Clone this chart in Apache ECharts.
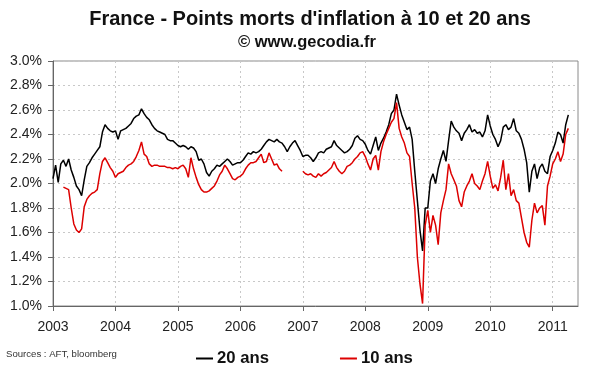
<!DOCTYPE html>
<html><head><meta charset="utf-8">
<script src="https://cdn.jsdelivr.net/npm/echarts@6/dist/echarts.min.js"></script>
<style>html,body{margin:0;padding:0;background:#fff}#c{width:600px;height:372px}</style>
</head><body><div id="c"></div>
<script>
// Semi-monthly readings starting January 2003
const START_YEAR = 2003;
const STEP = 1 / 24;
const X_MAX = 2011.405;
const yearTicks = [2003, 2004, 2005, 2006, 2007, 2008, 2009, 2010, 2011];
const Y_MIN = 1.0, Y_MAX = 3.0, Y_STEP = 0.2;

const titleText = "France - Points morts d'inflation à 10 et 20 ans";
const subtitleText = "© www.gecodia.fr";
const sourceText = "Sources : AFT, bloomberg";
const seriesNames = ["20 ans", "10 ans"];

const ans20 = [
  2.04,2.15,2.01,2.16,2.19,2.14,2.20,2.11,2.05,1.98,1.95,1.90,2.03,2.14,2.17,2.21,2.24,2.27,2.30,2.42,2.48,2.45,2.43,2.42,2.43,
  2.36,2.43,2.44,2.45,2.47,2.49,2.53,2.55,2.56,2.61,2.57,2.54,2.52,2.48,2.45,2.43,2.42,2.41,2.40,2.36,2.35,2.35,2.33,2.31,
  2.30,2.31,2.30,2.28,2.30,2.29,2.26,2.19,2.20,2.16,2.09,2.06,2.10,2.12,2.15,2.14,2.16,2.18,2.20,2.18,2.15,2.16,2.17,2.17,
  2.19,2.22,2.25,2.24,2.26,2.25,2.26,2.28,2.31,2.34,2.36,2.35,2.34,2.36,2.34,2.33,2.30,2.26,2.30,2.33,2.35,2.31,2.27,2.22,
  2.23,2.23,2.21,2.18,2.21,2.25,2.26,2.25,2.28,2.29,2.30,2.35,2.31,2.29,2.27,2.25,2.26,2.28,2.31,2.37,2.39,2.36,2.35,
  2.32,2.27,2.24,2.31,2.38,2.27,2.33,2.37,2.42,2.48,2.57,2.60,2.73,2.64,2.56,2.50,2.44,
  2.46,2.36,2.10,1.86,1.62,1.45,1.80,1.80,2.02,2.08,2.00,2.12,2.20,2.27,2.18,2.35,2.51,2.46,2.43,2.41,2.35,2.41,2.44,2.48,
  2.42,2.44,2.41,2.42,2.38,2.43,2.56,2.47,2.40,2.36,2.30,2.35,2.46,2.48,2.44,2.46,2.53,2.43,2.41,
  2.36,2.28,2.17,1.93,2.10,2.16,2.04,2.13,2.16,2.10,2.08,2.22,2.27,2.33,2.42,2.40,2.33,2.48,2.56
];

const ans10 = [
  null,null,null,null,
  1.97,1.96,1.95,1.80,1.67,1.62,1.60,1.63,1.81,1.87,1.90,1.92,1.93,1.95,2.08,2.18,2.21,2.17,2.13,2.10,2.05,
  2.08,2.09,2.10,2.13,2.15,2.16,2.18,2.22,2.27,2.34,2.24,2.22,2.16,2.14,2.15,2.15,2.14,2.14,2.14,2.13,2.13,2.12,2.13,2.12,
  2.14,2.15,2.12,2.05,2.21,2.12,2.05,1.99,1.95,1.93,1.93,1.94,1.96,1.98,2.02,2.07,2.10,2.15,2.12,2.08,2.04,2.03,2.05,2.06,
  2.08,2.12,2.15,2.17,2.17,2.18,2.21,2.24,2.17,2.18,2.25,2.20,2.15,2.16,2.12,2.10,
  null,null,null,null,null,null,null,
  2.10,2.08,2.07,2.08,2.06,2.05,2.08,2.06,2.08,2.09,2.11,2.13,2.18,2.13,2.10,2.08,2.10,2.14,2.15,2.17,2.20,2.22,2.25,2.26,
  2.22,2.16,2.11,2.20,2.23,2.11,2.26,2.34,2.40,2.45,2.50,2.53,2.66,2.45,2.38,2.33,2.25,
  2.22,2.00,1.80,1.40,1.18,1.02,1.66,1.78,1.60,1.74,1.66,1.50,1.76,1.86,1.95,2.16,2.08,2.03,1.98,1.86,1.81,1.93,1.98,2.02,
  2.08,2.00,1.98,1.95,2.02,2.08,2.18,2.06,1.96,1.99,1.94,2.05,2.19,1.95,2.08,1.90,1.95,1.86,1.84,1.72,1.60,1.52,1.48,1.70,
  1.84,1.76,1.80,1.82,1.66,1.98,2.06,2.16,2.20,2.26,2.18,2.24,2.40,2.45
];

function toPoints(vals) {
  return vals.map((v, i) => [START_YEAR + i * STEP, v == null ? '-' : v]);
}

const FONT = '"Liberation Sans", Arial, sans-serif';
const chart = echarts.init(document.getElementById('c'), null, {renderer: 'canvas'});
chart.setOption({
  animation: false,
  backgroundColor: '#fff',
  textStyle: {fontFamily: FONT},
  grid: {left: 53, right: 22, top: 61, bottom: 66, show: true, borderColor: '#8a8a8a', borderWidth: 1},
  graphic: [
    {type: 'text', x: 310, y: 19, style: {text: titleText, font: 'bold 20px ' + FONT, fill: '#111', align: 'center', verticalAlign: 'middle'}},
    {type: 'text', x: 307, y: 42, style: {text: subtitleText, font: 'bold 16.5px ' + FONT, fill: '#111', align: 'center', verticalAlign: 'middle'}},
    {type: 'text', x: 6, y: 354, style: {text: sourceText, font: '9.6px ' + FONT, fill: '#333', align: 'left', verticalAlign: 'middle'}}
  ],
  legend: {
    left: 191, top: 345, icon: 'rect', itemWidth: 17, itemHeight: 2, itemGap: 71,
    textStyle: {fontFamily: FONT, fontSize: 16.7, fontWeight: 'bold', color: '#111', padding: [0, 0, 0, -1]},
    data: seriesNames
  },
  xAxis: {
    type: 'value', min: START_YEAR, max: X_MAX,
    axisLine: {show: true, lineStyle: {color: '#666', width: 1}},
    axisTick: {show: true, length: 5, lineStyle: {color: '#666'}, customValues: yearTicks},
    axisLabel: {customValues: yearTicks, margin: 14, fontSize: 14, color: '#222', fontFamily: FONT, formatter: v => String(Math.round(v))},
    splitLine: {show: true, lineStyle: {color: '#c8c8c8', type: [2, 3], width: 1}}
  },
  yAxis: {
    type: 'value', min: Y_MIN, max: Y_MAX, interval: Y_STEP,
    axisLine: {show: true, lineStyle: {color: '#666', width: 1}},
    axisTick: {show: true, length: 5, lineStyle: {color: '#666'}},
    axisLabel: {margin: 11, fontSize: 14, color: '#222', fontFamily: FONT, formatter: v => v.toFixed(1) + '%'},
    splitLine: {show: true, lineStyle: {color: '#c8c8c8', type: [2, 3], width: 1}}
  },
  series: [
    {name: seriesNames[0], type: 'line', data: toPoints(ans20), showSymbol: false, symbol: 'none', connectNulls: false,
     itemStyle: {color: '#000'}, lineStyle: {color: '#000', width: 1.5}},
    {name: seriesNames[1], type: 'line', data: toPoints(ans10), showSymbol: false, symbol: 'none', connectNulls: false,
     itemStyle: {color: '#dd0000'}, lineStyle: {color: '#dd0000', width: 1.5}}
  ]
});
</script>
</body></html>
